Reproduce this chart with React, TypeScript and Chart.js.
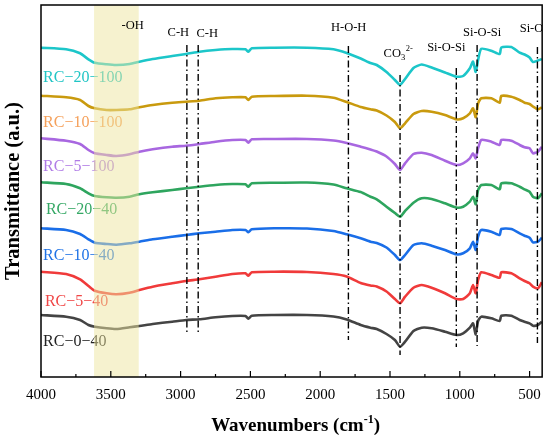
import React, { useEffect, useRef } from "react";
import { Chart, registerables } from "chart.js";
Chart.register(...registerables);

const wavenumbers = [4000, 3820, 3720, 3660, 3615, 3530, 3460, 3365, 3295, 3200, 3060, 2960, 2865, 2750, 2630, 2535, 2515, 2490, 2330, 2095, 1905, 1810, 1710, 1640, 1595, 1525, 1465, 1428, 1392, 1332, 1273, 1202, 1106, 1024, 976, 928, 905, 886, 869, 846, 774, 714, 703, 631, 571, 536, 500, 476, 440, 412];

const rc20_100 = [32.93, 32.77, 32.37, 31.77, 31.43, 31.27, 31.2, 31.3, 31.53, 31.8, 32.1, 32.3, 32.53, 32.7, 32.8, 32.77, 32.53, 32.87, 32.93, 32.93, 32.77, 32.4, 31.85, 31.4, 31.2, 30.5, 29.7, 29.2, 29.8, 30.9, 31.25, 30.95, 30.45, 30.03, 30.1, 30.87, 31.55, 30.5, 31.7, 32.82, 32.63, 32.3, 32.95, 33.0, 32.43, 32.25, 31.95, 31.5, 31.65, 31.8];
const rc10_100 = [28.13, 27.97, 27.7, 27.1, 26.87, 26.7, 26.7, 26.77, 26.97, 27.2, 27.43, 27.53, 27.63, 27.87, 27.97, 27.97, 27.7, 28.03, 28.1, 28.13, 27.93, 27.5, 27.0, 26.77, 26.65, 26.15, 25.5, 24.87, 25.37, 26.3, 26.6, 26.53, 26.2, 25.77, 25.87, 26.37, 26.87, 25.97, 27.37, 27.87, 27.87, 27.43, 28.1, 28.03, 27.7, 27.43, 27.3, 27.05, 26.77, 26.97];
const rc5_100 = [23.87, 23.63, 23.3, 22.7, 22.37, 22.2, 22.1, 22.27, 22.53, 22.77, 23.03, 23.13, 23.3, 23.53, 23.7, 23.7, 23.43, 23.77, 23.8, 23.8, 23.65, 23.4, 23.03, 22.75, 22.55, 22.05, 21.3, 20.7, 21.37, 22.3, 22.43, 22.2, 21.63, 21.2, 21.37, 21.87, 22.37, 21.87, 22.87, 23.7, 23.53, 23.2, 23.7, 23.63, 23.2, 22.97, 22.87, 22.37, 22.53, 23.03];
const rc20_40 = [19.47, 19.3, 18.87, 18.37, 18.1, 17.97, 17.93, 18.03, 18.27, 18.47, 18.7, 18.87, 19.03, 19.2, 19.3, 19.27, 19.03, 19.37, 19.43, 19.45, 19.25, 18.87, 18.5, 18.03, 17.77, 17.03, 16.4, 16.03, 16.6, 17.43, 17.87, 17.8, 17.37, 16.95, 17.03, 17.53, 18.03, 17.27, 18.7, 19.2, 19.2, 18.77, 19.37, 19.37, 19.03, 18.77, 18.53, 18.03, 17.87, 18.37];
const rc10_40 = [14.87, 14.7, 14.3, 13.77, 13.43, 13.3, 13.23, 13.37, 13.53, 13.77, 14.03, 14.2, 14.37, 14.53, 14.7, 14.7, 14.47, 14.77, 14.87, 14.85, 14.6, 14.27, 13.87, 13.53, 13.4, 12.95, 12.2, 11.7, 12.2, 13.2, 13.37, 13.13, 12.7, 12.27, 12.37, 12.87, 13.53, 12.7, 14.03, 14.7, 14.53, 14.2, 14.8, 14.8, 14.37, 14.13, 13.93, 13.47, 13.53, 13.93];
const rc5_40 = [10.53, 10.3, 9.77, 9.1, 8.63, 8.37, 8.27, 8.43, 8.7, 9.03, 9.37, 9.6, 9.77, 10.03, 10.3, 10.37, 10.13, 10.47, 10.53, 10.5, 10.3, 10.05, 9.4, 9.15, 9.05, 8.55, 7.8, 7.37, 8.03, 8.93, 9.2, 8.93, 8.37, 7.8, 7.8, 8.37, 9.2, 8.37, 9.7, 10.47, 10.2, 9.93, 10.47, 10.37, 9.87, 9.6, 9.37, 9.03, 8.87, 9.47];
const rc0_40 = [6.2, 6.03, 5.7, 5.2, 5.03, 4.87, 4.8, 4.97, 5.1, 5.3, 5.53, 5.7, 5.77, 5.97, 6.1, 6.1, 5.83, 6.13, 6.2, 6.2, 6.05, 5.75, 5.2, 4.93, 4.8, 4.3, 3.7, 3.03, 3.53, 4.6, 4.93, 4.87, 4.53, 4.2, 4.37, 4.93, 5.37, 4.27, 5.6, 6.03, 5.87, 5.6, 6.13, 6.13, 5.7, 5.53, 5.37, 5.13, 5.2, 5.53];

const seriesValues = [rc20_100, rc10_100, rc5_100, rc20_40, rc10_40, rc5_40, rc0_40];
const seriesNames = ["RC\u221220\u2212100", "RC\u221210\u2212100", "RC\u22125\u2212100", "RC\u221220\u221240", "RC\u221210\u221240", "RC\u22125\u221240", "RC\u22120\u221240"];
const lineColors = ["#1cc6c9", "#c99a0e", "#a867e0", "#2ea55e", "#1a6ee8", "#f03a3a", "#444444"];
const labelColors = ["#20c5c5", "#f5a05a", "#b07ce6", "#35a865", "#1e72e6", "#f04646", "#222222"];
const labelX = [3985, 3985, 3985, 3965, 3985, 3972, 3985];
const labelY = [29.93, 25.4, 21.03, 16.7, 12.1, 7.53, 3.53];

const bandRange = [3620, 3300];

const markerWavenumbers = [2955, 2874, 1798, 1428, 1025, 876, 444];
const markerTops = [33.2, 33.2, 33.1, 30.2, 30.9, 33.2, 33.0];
const markerBottoms = [4.43, 4.43, 3.7, 2.2, 3.0, 3.1, 3.4];

const annotationTexts = ["-OH", "C-H", "C-H", "H-O-H", "Si-O-Si", "Si-O-Si", "Si-O"];
const annotationX = [3344, 3016, 2809, 1796, 1097, 840, 571];
const annotationY = [35.1, 34.4, 34.3, 34.9, 32.9, 34.4, 34.8];
const annotationAlign = ["center", "center", "center", "center", "center", "center", "left"];
const carbonateX = 1546;
const carbonateY = 32.3;

const majorTicks = [4000, 3500, 3000, 2500, 2000, 1500, 1000, 500];
const minorTicks = [3750, 3250, 2750, 2250, 1750, 1250, 750];

const SERIF = '"Liberation Serif", "Times New Roman", serif';

const overlayPlugin = {
  id: "overlayPlugin",
  afterDatasetsDraw(chart: any) {
    const { ctx, chartArea, scales } = chart;
    const x = scales.x;
    const y = scales.y;
    ctx.save();
    ctx.font = `16px ${SERIF}`;
    ctx.textBaseline = "middle";
    ctx.textAlign = "left";
    seriesNames.forEach((name, i) => {
      ctx.fillStyle = labelColors[i];
      ctx.fillText(name, x.getPixelForValue(labelX[i]), y.getPixelForValue(labelY[i]));
    });
    const x1 = x.getPixelForValue(bandRange[0]);
    const x2 = x.getPixelForValue(bandRange[1]);
    ctx.fillStyle = "rgba(238,230,160,0.5)";
    ctx.fillRect(Math.min(x1, x2), chartArea.top, Math.abs(x2 - x1), chartArea.bottom - chartArea.top);
    ctx.restore();
  },
  afterDraw(chart: any) {
    const { ctx, chartArea, scales } = chart;
    const x = scales.x;
    const y = scales.y;
    ctx.save();
    ctx.strokeStyle = "#000";
    ctx.lineWidth = 1.5;
    ctx.strokeRect(chartArea.left, chartArea.top, chartArea.right - chartArea.left, chartArea.bottom - chartArea.top);
    ctx.lineWidth = 1.2;
    ctx.beginPath();
    majorTicks.forEach((t) => {
      const px = x.getPixelForValue(t);
      ctx.moveTo(px, chartArea.bottom);
      ctx.lineTo(px, chartArea.bottom - 6);
    });
    minorTicks.forEach((t) => {
      const px = x.getPixelForValue(t);
      ctx.moveTo(px, chartArea.bottom);
      ctx.lineTo(px, chartArea.bottom - 3);
    });
    ctx.stroke();

    ctx.beginPath();
    ctx.rect(chartArea.left, chartArea.top, chartArea.right - chartArea.left, chartArea.bottom - chartArea.top);
    ctx.clip();
    ctx.fillStyle = "#000";
    ctx.font = `12.5px ${SERIF}`;
    ctx.textBaseline = "middle";
    annotationTexts.forEach((t, i) => {
      ctx.textAlign = annotationAlign[i] as CanvasTextAlign;
      ctx.fillText(t, x.getPixelForValue(annotationX[i]), y.getPixelForValue(annotationY[i]));
    });
    ctx.textAlign = "left";
    let cx = x.getPixelForValue(carbonateX);
    const cy = y.getPixelForValue(carbonateY);
    ctx.fillText("CO", cx, cy);
    cx += ctx.measureText("CO").width;
    ctx.font = `8.5px ${SERIF}`;
    ctx.fillText("3", cx, cy + 4);
    cx += ctx.measureText("3").width + 0.5;
    ctx.fillText("2-", cx, cy - 5);
    ctx.restore();

    ctx.save();
    ctx.fillStyle = "#000";
    ctx.textBaseline = "alphabetic";
    ctx.textAlign = "left";
    const big = `bold 19px ${SERIF}`;
    const small = `bold 12px ${SERIF}`;
    ctx.font = big;
    const p1 = "Wavenumbers (cm";
    const w1 = ctx.measureText(p1).width;
    const w3 = ctx.measureText(")").width;
    ctx.font = small;
    const w2 = ctx.measureText("-1").width;
    const total = w1 + w2 + w3;
    const cxMid = (chartArea.left + chartArea.right) / 2 + 4;
    let sx = cxMid - total / 2;
    const base = 431;
    ctx.font = big;
    ctx.fillText(p1, sx, base);
    sx += w1;
    ctx.font = small;
    ctx.fillText("-1", sx, base - 8);
    sx += w2;
    ctx.font = big;
    ctx.fillText(")", sx, base);
    ctx.restore();
  },
};

export default function App() {
  const canvasRef = useRef<HTMLCanvasElement | null>(null);

  useEffect(() => {
    document.body.style.margin = "0";
    const canvas = canvasRef.current;
    if (!canvas) return;

    const markerSets = markerWavenumbers.map((wn, i) => ({
      label: "marker" + i,
      data: [
        { x: wn, y: markerTops[i] },
        { x: wn, y: markerBottoms[i] },
      ],
      borderColor: "#000",
      borderWidth: 1.4,
      borderDash: [7, 3, 1.5, 3],
      pointRadius: 0,
      fill: false,
    }));

    const curveSets = seriesValues.map((vals, i) => ({
      label: seriesNames[i],
      data: wavenumbers.map((wn, j) => ({ x: wn, y: vals[j] })),
      borderColor: lineColors[i],
      borderWidth: 2.6,
      pointRadius: 0,
      fill: false,
      tension: 0.2,
    }));

    const chart = new Chart(canvas, {
      type: "line",
      data: { datasets: [...markerSets, ...curveSets] as any },
      options: {
        animation: false,
        responsive: false,
        maintainAspectRatio: false,
        layout: { padding: { top: 5, right: 6, left: 0, bottom: 0 } },
        plugins: { legend: { display: false }, tooltip: { enabled: false } },
        scales: {
          x: {
            type: "linear",
            reverse: true,
            min: 410,
            max: 4000,
            afterBuildTicks: (scale: any) => {
              scale.ticks = majorTicks.map((v) => ({ value: v }));
            },
            afterFit: (scale: any) => {
              scale.height = 62;
            },
            grid: { display: false, drawTicks: false },
            border: { display: false },
            ticks: {
              color: "#000",
              font: { family: SERIF, size: 15 },
              padding: 9,
              maxRotation: 0,
              autoSkip: false,
              callback: (v: any) => String(v),
            },
          },
          y: {
            type: "linear",
            min: 0,
            max: 37.2,
            afterFit: (scale: any) => {
              scale.width = 41;
            },
            grid: { display: false, drawTicks: false },
            border: { display: false },
            ticks: { display: false },
            title: {
              display: true,
              text: "Transmittance (a.u.)",
              color: "#000",
              font: { family: SERIF, size: 20.5, weight: "bold" },
              padding: { top: 1, bottom: 0 },
            },
          },
        },
      },
      plugins: [overlayPlugin],
    });

    return () => chart.destroy();
  }, []);

  return (
    <div style={{ width: 550, height: 439, position: "relative" }}>
      <canvas ref={canvasRef} width={550} height={439} style={{ width: 550, height: 439, display: "block" }} />
    </div>
  );
}
